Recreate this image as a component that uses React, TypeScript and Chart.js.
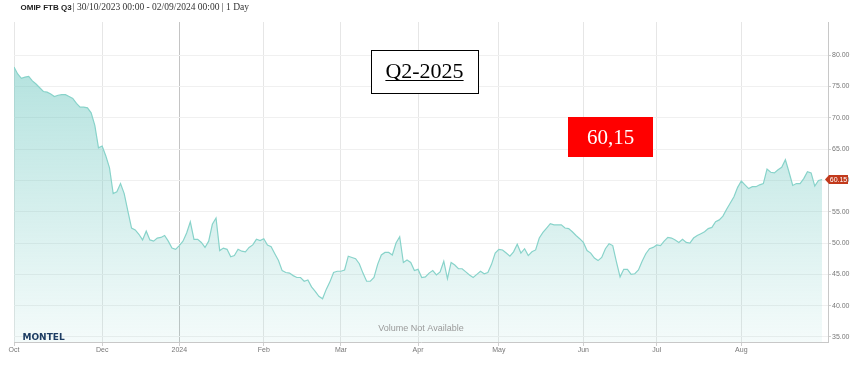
import React, { useEffect, useRef } from 'react';
import { Chart, registerables } from 'chart.js';

Chart.register(...registerables);

// ---- data ----
const START_DATE = '2023-10-30';
const END_DATE = '2024-09-02';
const LAST_PRICE = 60.15;

// daily settlement prices (trading days, 30/10/2023 .. 02/09/2024)
const prices: number[] = [
  78.1, 77.0, 76.3, 76.5, 76.6, 75.9, 75.4, 74.8, 74.2, 74.1,
  73.8, 73.4, 73.6, 73.7, 73.7, 73.4, 73.1, 72.3, 71.7, 71.7,
  71.6, 70.8, 68.8, 65.2, 65.5, 63.9, 62.0, 57.9, 58.2, 59.5,
  57.9, 55.1, 52.4, 52.1, 51.4, 50.5, 51.9, 50.5, 50.3, 50.8,
  50.9, 51.2, 50.3, 49.2, 49.0, 49.6, 50.3, 51.6, 53.4, 50.6,
  50.6, 50.1, 49.3, 50.3, 53.0, 54.0, 48.8, 49.2, 49.0, 47.8,
  48.0, 49.0, 48.7, 48.6, 49.3, 49.7, 50.6, 50.4, 50.7, 49.7,
  49.4, 48.3, 47.2, 45.6, 45.3, 45.2, 44.8, 44.5, 44.5, 43.9,
  44.1, 43.0, 42.3, 41.5, 41.1, 42.6, 43.8, 45.3, 45.5, 45.5,
  45.7, 47.9, 47.7, 47.5, 46.7, 45.2, 43.9, 43.9, 44.5, 46.6,
  48.1, 48.5, 48.5, 48.1, 50.0, 51.0, 46.9, 47.3, 46.9, 45.6,
  45.8, 44.5, 44.6, 45.2, 45.6, 44.9, 45.4, 47.1, 44.3, 46.9,
  46.5, 45.9, 45.9, 45.4, 44.9, 44.5, 45.0, 45.5, 45.1, 45.3,
  46.6, 48.4, 49.0, 48.9, 48.4, 47.9, 48.6, 49.8, 48.4, 49.1,
  48.0, 48.6, 48.9, 50.8, 51.7, 52.4, 53.1, 52.9, 52.9, 52.9,
  52.4, 52.3, 51.8, 51.2, 50.7, 50.1, 48.8, 48.4, 47.6, 47.2,
  47.7, 49.1, 49.9, 49.6, 47.0, 44.6, 45.8, 45.8, 45.0, 45.1,
  45.7, 47.1, 48.3, 49.1, 49.3, 49.7, 49.6, 50.3, 50.9, 50.8,
  50.5, 50.1, 50.6, 50.1, 50.0, 50.8, 51.2, 51.5, 51.8, 52.3,
  52.5, 53.4, 53.7, 54.3, 55.4, 56.4, 57.4, 58.9, 59.9, 59.3,
  58.7, 59.0, 59.0, 59.3, 59.5, 61.8, 61.3, 61.2, 61.7, 62.1,
  63.3, 61.3, 59.2, 59.5, 59.5, 60.3, 61.4, 61.2, 59.1, 60.0,
  60.15,
];

const tickDates = ['2023-10-30', '2023-12-01', '2024-01-01', '2024-02-01', '2024-03-01', '2024-04-01', '2024-05-01', '2024-06-03', '2024-07-01', '2024-08-01'];
const tickLabels = ['Oct', 'Dec', '2024', 'Feb', 'Mar', 'Apr', 'May', 'Jun', 'Jul', 'Aug'];
const yTicks = [35, 40, 45, 50, 55, 60, 65, 70, 75, 80];
const Y_MIN = 34.2;
const Y_MAX = 85.3;

const TITLE_BOLD = 'OMIP FTB Q3';
const TITLE_REST = '| 30/10/2023 00:00 - 02/09/2024 00:00 | 1 Day';
const BOX_LABEL = 'Q2-2025';
const PRICE_LABEL = '60,15';

function tradingDays(start: string, end: string): string[] {
  const out: string[] = [];
  const d = new Date(start + 'T00:00:00Z');
  const e = new Date(end + 'T00:00:00Z');
  while (d.getTime() <= e.getTime()) {
    const wd = d.getUTCDay();
    if (wd !== 0 && wd !== 6) out.push(d.toISOString().slice(0, 10));
    d.setUTCDate(d.getUTCDate() + 1);
  }
  return out;
}

const overlayPlugin = {
  id: 'overlay',
  afterDraw(chart: any) {
    const ctx = chart.ctx as CanvasRenderingContext2D;
    const ca = chart.chartArea;
    const ys = chart.scales.y;
    ctx.save();

    // header
    ctx.textBaseline = 'alphabetic';
    ctx.textAlign = 'left';
    ctx.fillStyle = '#222';
    ctx.font = 'bold 8px "Liberation Sans", Arial, sans-serif';
    ctx.fillText(TITLE_BOLD, 20.5, 10.2);
    const w = ctx.measureText(TITLE_BOLD).width;
    ctx.fillStyle = '#333';
    ctx.font = '9.5px "Liberation Serif", serif';
    ctx.fillText(TITLE_REST, 20.5 + w + 1, 10.2);

    // watermark texts
    ctx.fillStyle = '#9a9a9a';
    ctx.font = '9px "Liberation Sans", Arial, sans-serif';
    ctx.textAlign = 'center';
    ctx.fillText('Volume Not Available', 421, 330.5);

    ctx.fillStyle = '#1d3d63';
    ctx.font = 'bold 9px "DejaVu Sans", sans-serif';
    ctx.textAlign = 'left';
    ctx.fillText('MONTEL', 22.5, 339.5);

    // last price tag
    const py = ys.getPixelForValue(LAST_PRICE);
    const x0 = ca.right;
    ctx.fillStyle = '#c23a1c';
    ctx.beginPath();
    ctx.moveTo(x0 - 3, py);
    ctx.lineTo(x0 + 1, py - 4.5);
    ctx.lineTo(x0 + 20, py - 4.5);
    ctx.lineTo(x0 + 20, py + 4.5);
    ctx.lineTo(x0 + 1, py + 4.5);
    ctx.closePath();
    ctx.fill();
    ctx.fillStyle = '#fff';
    ctx.font = '7px "Liberation Sans", Arial, sans-serif';
    ctx.textAlign = 'center';
    ctx.textBaseline = 'middle';
    ctx.fillText(LAST_PRICE.toFixed(2), x0 + 10.5, py + 0.5);

    // Q2-2025 box
    ctx.fillStyle = '#fff';
    ctx.fillRect(371, 50, 108, 44);
    ctx.strokeStyle = '#000';
    ctx.lineWidth = 1;
    ctx.strokeRect(371.5, 50.5, 107, 43);
    ctx.fillStyle = '#000';
    ctx.font = '22px "Liberation Serif", serif';
    ctx.textAlign = 'center';
    ctx.textBaseline = 'alphabetic';
    ctx.fillText(BOX_LABEL, 424.5, 77.7);
    const bw = ctx.measureText(BOX_LABEL).width;
    ctx.beginPath();
    ctx.moveTo(424.5 - bw / 2, 80.5);
    ctx.lineTo(424.5 + bw / 2, 80.5);
    ctx.stroke();

    // red price box
    ctx.fillStyle = '#ff0000';
    ctx.fillRect(568, 117, 85, 40);
    ctx.fillStyle = '#fff';
    ctx.font = '21px "Liberation Serif", serif';
    ctx.fillText(PRICE_LABEL, 610.5, 144);

    ctx.restore();
  },
};

export default function App() {
  const ref = useRef<HTMLCanvasElement>(null);

  useEffect(() => {
    const canvas = ref.current;
    if (!canvas) return;
    const dates = tradingDays(START_DATE, END_DATE);
    const tickIdx = tickDates.map((d) => dates.indexOf(d));
    const labelFor = new Map<number, string>();
    tickIdx.forEach((i, k) => labelFor.set(i, tickLabels[k]));
    const janIdx = dates.indexOf('2024-01-01');
    const points = prices.map((v, i) => ({ x: i, y: v }));

    const chart = new Chart(canvas, {
      type: 'line',
      data: {
        datasets: [
          {
            data: points,
            borderColor: '#88d3ca',
            borderWidth: 1.2,
            pointRadius: 0,
            tension: 0,
            fill: 'start',
            backgroundColor: (c: any) => {
              const ch = c.chart;
              const a = ch.chartArea;
              if (!a) return 'rgba(100,196,188,0.3)';
              const g = ch.ctx.createLinearGradient(0, a.top, 0, a.bottom);
              g.addColorStop(0, 'rgba(100,196,188,0.55)');
              g.addColorStop(1, 'rgba(100,196,188,0.07)');
              return g;
            },
          },
        ],
      },
      options: {
        responsive: false,
        animation: false,
        devicePixelRatio: 1,
        layout: { padding: { left: 14, top: 22, right: 0, bottom: 0 } },
        plugins: {
          legend: { display: false },
          tooltip: { enabled: false },
          title: { display: false },
        },
        scales: {
          x: {
            type: 'linear',
            min: 0,
            max: 221.6,
            afterBuildTicks: (s: any) => {
              s.ticks = tickIdx.map((v) => ({ value: v }));
            },
            afterFit: (s: any) => {
              s.height = 39;
            },
            ticks: {
              autoSkip: false,
              maxRotation: 0,
              padding: 0,
              color: '#777',
              font: { size: 7, family: '"Liberation Sans", Arial, sans-serif' },
              callback: (v: any) => labelFor.get(v) ?? '',
            },
            grid: {
              color: (c: any) => (c.tick && c.tick.value === janIdx ? '#c4c4c4' : '#e6e6e6'),
              tickLength: 4,
              tickColor: '#cfcfcf',
            },
            border: { color: '#c8c8c8', width: 1 },
          },
          y: {
            position: 'right',
            min: Y_MIN,
            max: Y_MAX,
            afterBuildTicks: (s: any) => {
              s.ticks = yTicks.map((v) => ({ value: v }));
            },
            afterFit: (s: any) => {
              s.width = 36;
            },
            ticks: {
              padding: 1,
              color: '#777',
              font: { size: 7, family: '"Liberation Sans", Arial, sans-serif' },
              callback: (v: any) => Number(v).toFixed(2),
            },
            grid: {
              color: '#f0f0f0',
              tickLength: 3,
              tickColor: '#cfcfcf',
            },
            border: { color: '#c8c8c8', width: 1 },
          },
        },
      },
      plugins: [overlayPlugin],
    } as any);

    return () => chart.destroy();
  }, []);

  return (
    <div style={{ position: 'absolute', left: 0, top: 0, width: 864, height: 381, background: '#fff' }}>
      <canvas ref={ref} width={864} height={381} style={{ width: 864, height: 381, display: 'block' }} />
    </div>
  );
}
